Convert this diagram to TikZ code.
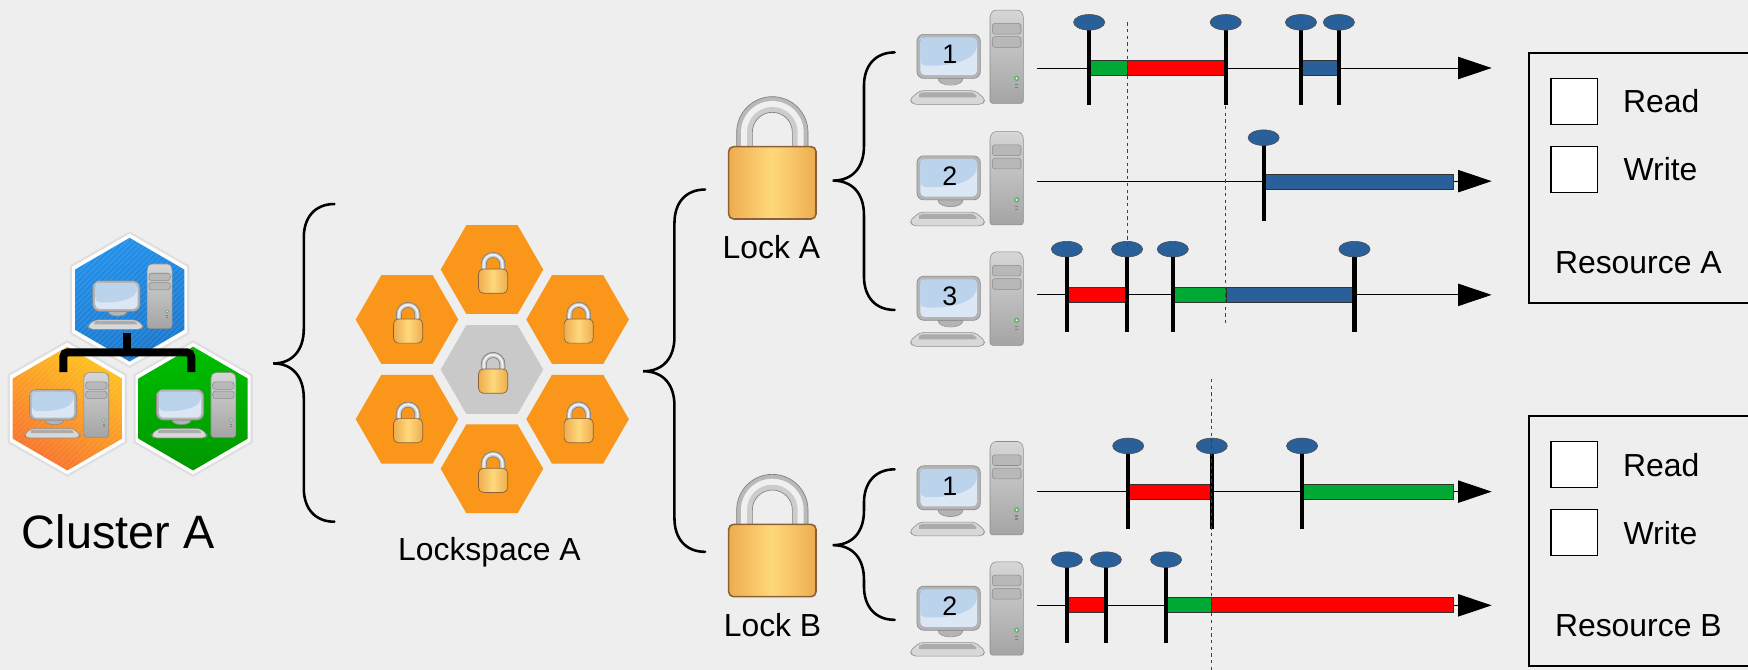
\documentclass[tikz,border=0pt]{standalone}
\usepackage{fontspec}
\setmainfont{Liberation Sans}
\usetikzlibrary{arrows.meta,calc,shapes.geometric}
\definecolor{bgc}{HTML}{EEEEEE}
\definecolor{hexo}{HTML}{FA961A}
\definecolor{hexg}{HTML}{C9C9C9}
\definecolor{pinb}{HTML}{2A6099}
\definecolor{barg}{HTML}{00A933}
\definecolor{barr}{HTML}{FF0000}
\definecolor{lockedge}{HTML}{8A6034}
\definecolor{towerE}{HTML}{8C8C8C}
\definecolor{lkA}{HTML}{EDAD4F}
\definecolor{lkB}{HTML}{FFD87C}
\definecolor{blA}{HTML}{2391EA}
\definecolor{blB}{HTML}{1A78CC}
\definecolor{orA}{HTML}{FFC31F}
\definecolor{orB}{HTML}{F8742F}
\definecolor{grA}{HTML}{00C000}
\definecolor{grB}{HTML}{009600}
\definecolor{scrA}{HTML}{BCD3EC}
\definecolor{scrB}{HTML}{DCE7F5}
\definecolor{twA}{HTML}{D6D6D6}
\definecolor{twB}{HTML}{A4A4A4}
\definecolor{bay}{HTML}{B8B8B8}
\definecolor{mon}{HTML}{B4B4B4}
\definecolor{keyb}{HTML}{D8D8D8}
\definecolor{keys}{HTML}{ABABAB}
\definecolor{ledg}{HTML}{5FAE6B}
\definecolor{ledw}{HTML}{D5EED8}
\colorlet{holec}{bgc}
\tikzset{
  x=0.5pt,y=-0.5pt,
  txt/.style={font=\fontsize{14.3}{14.3}\selectfont,inner sep=0pt,text=black},
  txtl/.style={txt,anchor=base west},
  brace/.style={draw=black,line width=1.15pt,line cap=round},
  tipline/.style={draw=black,line width=0.38pt,-{Triangle[length=15pt,width=10pt]}},
  pinline/.style={draw=black,line width=1.8pt},
  pinhead/.style={fill=pinb,draw=black!70,line width=.25pt,ellipse,inner sep=0pt,minimum width=14pt,minimum height=7pt},
  seg/.style={draw=black!80,line width=.4pt},
  guide/.style={draw=black!75,line width=.4pt,dash pattern=on 1.5pt off 1.5pt},
  cbox/.style={draw=black,fill=white,line width=.5pt},
  rbox/.style={draw=black,fill=bgc,line width=.9pt},
  clink/.style={draw=black,line width=3.6pt,rounded corners=2pt},
  pics/compu/.style={code={
    % tower
    \path[draw=towerE,line width=.25pt,top color=twA,bottom color=twB,rounded corners=1.2pt]
      (241,15) -- (251,0) -- (331,0) -- (341,15) -- (341,280) -- (241,280) -- cycle;
    \path[draw=towerE,line width=.25pt,fill=bay,rounded corners=1.2pt] (248,40) rectangle (334,72);
    \path[draw=towerE,line width=.25pt,fill=bay,rounded corners=1.2pt] (248,80) rectangle (334,112);
    \fill[ledg] (321,205) circle (8);
    \fill[ledw] (321,205) circle (4);
    \fill[gray] (316,222) rectangle (326,226);
    \fill[gray] (316,231) rectangle (326,235);
    % stand
    \path[draw=towerE,line width=.25pt,fill=mon] (85,205) -- (160,205) .. controls (160,232) and (85,232) .. (85,205) -- cycle;
    % monitor
    \path[draw=towerE,line width=.3pt,fill=mon,rounded corners=3pt] (22,73) rectangle (212,205);
    \path[rounded corners=2pt,fill=scrB] (32,83) rectangle (202,195);
    \path[fill=scrA,rounded corners=2pt] (34,83) -- (202,83) -- (202,118) .. controls (170,160) and (100,170) .. (32,165) -- (32,85) -- cycle;
    % keyboard
    \path[draw=towerE,line width=.25pt,fill=keyb,rounded corners=1.5pt] (0,268) -- (30,242) -- (197,242) -- (227,268) -- (218,283) -- (10,283) -- cycle;
    \path[fill=keys] (28,252) -- (38,247) -- (188,247) -- (200,256) -- (200,262) -- (28,262) -- cycle;
  }},
  pics/padlock/.style={code={
    \path[draw=gray,line width=.3pt,fill=gray!55] (-107,150) -- (-107,107) arc[start angle=180,end angle=360,radius=107] -- (107,150) -- cycle;
    \path[fill=gray!12] (-94,150) -- (-94,107) arc[start angle=180,end angle=360,radius=94] -- (94,150) -- cycle;
    \path[fill=gray!40] (-76,150) -- (-76,107) arc[start angle=180,end angle=360,radius=76] -- (76,150) -- cycle;
    \path[fill=holec,draw=gray,line width=.3pt] (-60,155) -- (-60,107) arc[start angle=180,end angle=360,radius=60] -- (60,155) -- cycle;
    \path[draw=lockedge,line width=#1,left color=lkA,right color=lkA,middle color=lkB,rounded corners=2.2pt]
      (-131,150) rectangle (131,367);
  }},
  pics/padlock/.default={.7pt},
}
\newcommand{\hexat}[5]{% name, cx, cy, R, col
  \path[fill=#5] ({#2-#4},#3) -- ({#2-#4/2},{#3-.866*#4}) -- ({#2+#4/2},{#3-.866*#4}) -- ({#2+#4},#3) -- ({#2+#4/2},{#3+.866*#4}) -- ({#2-#4/2},{#3+.866*#4}) -- cycle;
  \coordinate (#1) at (#2,#3);
  \colorlet{holec}{#5}
  \pic[scale=.1] at ({#2+1},{#3-15.5}) {padlock={.3pt}};
  \colorlet{holec}{bgc}
}
\newcommand{\pointhex}[7]{% name, cx, cy, col1, col2, angle, stripe opacity
  \path[draw=gray!25,line width=1.6pt,line join=miter,fill=white] (#2,{#3-59.5}) -- ({#2+52},{#3-29.7}) -- ({#2+52},{#3+29.7}) -- (#2,{#3+59.5}) -- ({#2-52},{#3+29.7}) -- ({#2-52},{#3-29.7}) -- cycle;
  \path[fill=white] (#2,{#3-59}) -- ({#2+51.5},{#3-29.5}) -- ({#2+51.5},{#3+29.5}) -- (#2,{#3+59}) -- ({#2-51.5},{#3+29.5}) -- ({#2-51.5},{#3-29.5}) -- cycle;
  \path[left color=#4,right color=#5,shading angle=#6] (#2,{#3-55.5}) -- ({#2+49},{#3-27}) -- ({#2+49},{#3+27}) -- (#2,{#3+55.5}) -- ({#2-49},{#3+27}) -- ({#2-49},{#3-27}) -- cycle;
  \begin{scope}
    \clip (#2,{#3-55.5}) -- ({#2+49},{#3-27}) -- ({#2+49},{#3+27}) -- (#2,{#3+55.5}) -- ({#2-49},{#3+27}) -- ({#2-49},{#3-27}) -- cycle;
    \foreach \k in {-24,...,24}
      \draw[white,opacity=#7,line width=.55pt] ({#2+5*\k-60},{#3+60}) -- ({#2+5*\k+60},{#3-60});
  \end{scope}
  \coordinate (#1) at (#2,#3);
}
\newcommand{\curly}[6]{% name, tipx, tipy, spinex, topy, boty
  \coordinate (#1tip) at (#2,#3);
  \coordinate (#1top) at ({#4+27.5},#5);
  \coordinate (#1bot) at ({#4+27.5},#6);
  \path[brace] (#1top) .. controls ({#4+10},#5) and (#4,{#5+12}) .. (#4,{#5+30})
    -- (#4,{#3-31}) .. controls (#4,{#3-12}) and ({#4-10},#3) .. (#1tip)
    .. controls ({#4-10},#3) and (#4,{#3+12}) .. (#4,{#3+31})
    -- (#4,{#6-30}) .. controls (#4,{#6-12}) and ({#4+10},#6) .. (#1bot);
}
\newcommand{\pcat}[3]{% x, top y, digit
  \pic[scale=.299] at (816,#2) {compu};
  \node[txt,font=\fontsize{12}{12}\selectfont] at (#1,{#2+40}) {#3};
}
\newcommand{\pinat}[3]{% name,x,oval y
  \coordinate (#1e) at (#2,{#3+74.5});
  \coordinate (#1s) at (#2,#3);
  \path[pinline] (#1s) -- (#1e);
  \node[pinhead] (#1) at (#1s) {};
}
\newcommand{\timeline}[2]{% name, y
  \coordinate (#1s) at (930,#2);
  \coordinate (#1e) at (1338,#2);
  \path[tipline] (#1s) -- (#1e);
}
\newcommand{\segm}[4]{% y,x0,x1,col
  \path[seg,fill=#4] (#2,{#1-6.7}) rectangle (#3,{#1+6.7});
}
\newcommand{\resbox}[3]{% name, top, label
  \path[rbox] (1371.2,#2) rectangle (1580,{#2+223.7});
  \path[cbox] (1391.3,{#2+22.8}) rectangle (1432.8,{#2+64});
  \path[cbox] (1391.3,{#2+83.8}) rectangle (1432.8,{#2+125});
  \node[txtl] (#1r) at (1455.5,{#2+53.5}) {Read};
  \node[txtl] (#1w) at (1456,{#2+114.5}) {Write};
  \node[txtl] (#1l) at (1394.5,{#2+197.5}) {#3};
}
\begin{document}
\begin{tikzpicture}
\path[use as bounding box,fill=bgc] (0,0) rectangle (1568,601);

% Cluster
\pointhex{hb}{116.3}{268.8}{blA}{blB}{20}{.1}
\pointhex{ho}{60.4}{366.5}{orA}{orB}{-30}{.08}
\pointhex{hg}{173.2}{366.5}{grA}{grB}{0}{0}
\pic[xscale=.223,yscale=.207] at (78.3,236.8) {compu};
\pic[xscale=.223,yscale=.207] at (21.5,334.3) {compu};
\pic[xscale=.223,yscale=.207] at (135.5,334.3) {compu};
\coordinate (cs) at (114.2,298.4);
\coordinate (cm) at (114.2,316);
\coordinate (cl) at (56.8,333.7);
\coordinate (cr) at (171.6,333.7);
\path[clink] (cl) |- (cm) -| (cr);
\path[clink] (cs) -- (cm);
\node[txt,font=\fontsize{21}{21}\selectfont] (clu) at (106,477) {Cluster A};

\curly{b1}{245}{326}{272.5}{183}{468}

% Lockspace
\hexat{s1}{441.3}{241.8}{46}{hexo}
\hexat{s2}{365.1}{286.6}{46}{hexo}
\hexat{s3}{518.1}{286.6}{46}{hexo}
\hexat{s4}{441.3}{331.5}{46}{hexg}
\hexat{s5}{365.1}{376}{46}{hexo}
\hexat{s6}{518.1}{376}{46}{hexo}
\hexat{s7}{441.3}{420.5}{46}{hexo}
\node[txt] (lsp) at (439,495) {Lockspace A};

\curly{b2}{577}{333}{605}{170}{495}

% Locks
\pic[scale=.299] at (692.8,86.7) {padlock};
\pic[scale=.299] at (692.8,425.5) {padlock};
\node[txt] (la) at (692,221.5) {Lock A};
\node[txt] (lb) at (693,560.5) {Lock B};

\curly{b3}{747}{162}{775}{47}{278}
\curly{b4}{747}{489}{775}{421}{556}

% Computers
\pcat{852}{9}{1}
\pcat{852}{118}{2}
\pcat{852}{226}{3}
\pcat{852}{396}{1}
\pcat{852}{504}{2}

% Timelines
\timeline{ta}{61}
\timeline{tb}{162.5}
\timeline{tc}{264.5}
\timeline{td}{441}
\timeline{te}{543}

% Row A1
\segm{61}{977}{1011}{barg}\segm{61}{1011}{1100}{barr}\segm{61}{1167}{1201}{pinb}
\pinat{a1}{977}{20}\pinat{a2}{1099.5}{20}\pinat{a3}{1167}{20}\pinat{a4}{1201}{20}
% Row A2
\segm{163}{1134}{1304}{pinb}
\pinat{b1}{1133.5}{123.5}
% Row A3
\segm{264.5}{957}{1011}{barr}\segm{264.5}{1052}{1100}{barg}\segm{264.5}{1100}{1215}{pinb}
\pinat{c1}{957}{223.5}\pinat{c2}{1011}{223.5}\pinat{c3}{1052}{223.5}\pinat{c4}{1215}{223.5}
% Row B1
\segm{441}{1012}{1087}{barr}\segm{441}{1168}{1304}{barg}
\pinat{d1}{1012}{400}\pinat{d2}{1087}{400}\pinat{d3}{1168}{400}
% Row B2
\segm{543}{957}{992}{barr}\segm{543}{1046}{1087}{barg}\segm{543}{1087}{1304}{barr}
\pinat{e1}{957}{502}\pinat{e2}{992}{502}\pinat{e3}{1046}{502}

% guides
\coordinate (g1s) at (1011,20); \coordinate (g1e) at (1011,224);
\coordinate (g2s) at (1099.5,95); \coordinate (g2e) at (1099.5,293);
\coordinate (g3s) at (1087,340); \coordinate (g3e) at (1087,601);
\path[guide] (g1s) -- (g1e);
\path[guide] (g2s) -- (g2e);
\path[guide] (g3s) -- (g3e);

% Resources
\resbox{ra}{47.8}{Resource A}
\resbox{rb}{373.5}{Resource B}
\end{tikzpicture}
\end{document}
